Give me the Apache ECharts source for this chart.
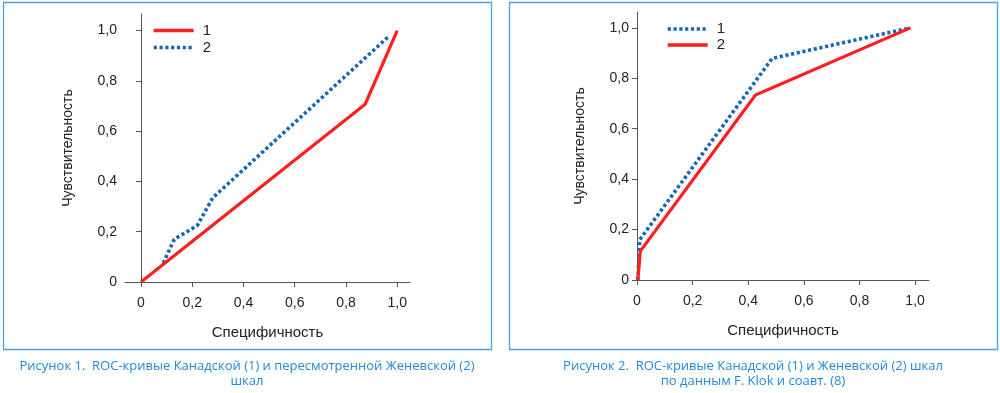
<!DOCTYPE html>
<html>
<head>
<meta charset="utf-8">
<script src="https://cdn.jsdelivr.net/npm/echarts@6/dist/echarts.min.js"></script>
<style>
html,body{margin:0;padding:0;background:#fff;}
#c{width:1000px;height:393px;}
</style>
</head>
<body>
<div id="c"></div>
<script>
// ---- Data ----
var tickValues = [0, 0.2, 0.4, 0.6, 0.8, 1.0];
// Figure 1
var fig1Canadian = [[0, 0], [0.875, 0.707], [1.0, 1.0]];
var fig1Geneva = [[0.087, 0.075], [0.13, 0.17], [0.22, 0.225], [0.28, 0.335], [0.97, 0.98]];
// Figure 2
var fig2Canadian = [[0.003, 0], [0.01, 0.16], [0.486, 0.879], [0.983, 1.0]];
var fig2Geneva = [[0.003, 0], [0.012, 0.115], [0.426, 0.734], [0.983, 1.0]];
var xName = 'Специфичность';
var yName = 'Чувствительность';
var caption1 = ['Рисунок 1.  ROC-кривые Канадской (1) и пересмотренной Женевской (2)', 'шкал'];
var caption2 = ['Рисунок 2.  ROC-кривые Канадской (1) и Женевской (2) шкал', 'по данным F. Klok и соавт. (8)'];

var RED = '#ff1f1f', BLUE = '#1767b4', AXIS = '#555', TXT = '#222', FRAME = '#47a2de', CAP = '#2589d4';
var FONT = 'Liberation Sans, Arial, sans-serif';

function fmt(v) { return v === 0 ? '0' : v.toFixed(1).replace('.', ','); }

function xAxis(idx, min, max, gap) {
  return {
    type: 'value', gridIndex: idx, min: min, max: max,
    name: xName, nameLocation: 'middle', nameGap: gap,
    nameTextStyle: {fontFamily: FONT, fontSize: 15, color: TXT},
    axisLine: {show: true, lineStyle: {color: AXIS, width: 1}},
    axisTick: {show: true, length: 5, lineStyle: {color: AXIS}, customValues: tickValues},
    axisLabel: {fontFamily: FONT, fontSize: 14, color: TXT, margin: 14, formatter: fmt, customValues: tickValues},
    splitLine: {show: false}
  };
}
function yAxis(idx, max, gap) {
  return {
    type: 'value', gridIndex: idx, min: 0, max: max,
    name: yName, nameLocation: 'middle', nameGap: gap, nameRotate: 90,
    nameTextStyle: {fontFamily: FONT, fontSize: 14, color: TXT},
    axisLine: {show: true, lineStyle: {color: AXIS, width: 1}},
    axisTick: {show: true, length: 5, lineStyle: {color: AXIS}, customValues: tickValues},
    axisLabel: {fontFamily: FONT, fontSize: 14, color: TXT, margin: 8, formatter: fmt, customValues: tickValues},
    splitLine: {show: false}
  };
}
function solid(name, idx, data) {
  return {name: name, type: 'line', xAxisIndex: idx, yAxisIndex: idx, data: data, symbol: 'none',
    lineStyle: {color: RED, width: 3.2, type: 'solid', cap: 'butt', join: 'miter'}, itemStyle: {color: RED}, z: 3};
}
function dotted(name, idx, data) {
  return {name: name, type: 'line', xAxisIndex: idx, yAxisIndex: idx, data: data, symbol: 'none',
    lineStyle: {color: BLUE, width: 3.6, type: [3.2, 2.6], cap: 'butt'}, itemStyle: {color: BLUE}, z: 2};
}
function captionText(lines, cx) {
  return lines.map(function (t, i) {
    return {type: 'text', x: cx, y: 366 + i * 15,
      style: {text: t, align: 'center', verticalAlign: 'middle', fill: CAP, fontFamily: '"Open Sans", sans-serif', fontSize: 13}};
  });
}
function legend(names, left, top, gap) {
  return {data: names, orient: 'vertical', left: left, top: top, padding: 0, itemWidth: 40, itemHeight: 14, itemGap: gap,
    formatter: function (n) { return n.slice(1); }, selectedMode: false,
    itemStyle: {opacity: 0, borderWidth: 0},
    lineStyle: {width: 3.4},
    textStyle: {fontFamily: FONT, fontSize: 15, color: TXT, padding: [0, 0, 0, 4]}};
}

var chart = echarts.init(document.getElementById('c'), null, {renderer: 'canvas'});
chart.setOption({
  animation: false,
  backgroundColor: '#fff',
  grid: [
    {left: 125, top: 14, width: 285, height: 268},
    {left: 637, top: 12, width: 292, height: 268}
  ],
  xAxis: [xAxis(0, -0.0625, 1.05, 43), xAxis(1, 0, 1.05, 43)],
  yAxis: [yAxis(0, 1.066, 50), yAxis(1, 1.063, 50)],
  legend: [
    legend(['L1', 'L2'], 152, 23, 2),
    legend(['R1', 'R2'], 666, 21.5, 1)
  ],
  series: [
    solid('L1', 0, fig1Canadian),
    dotted('L2', 0, fig1Geneva),
    dotted('R1', 1, fig2Canadian),
    solid('R2', 1, fig2Geneva)
  ],
  graphic: [
    {type: 'rect', shape: {x: 3.5, y: 2.5, width: 488, height: 347}, style: {fill: 'none', stroke: FRAME, lineWidth: 1.3}},
    {type: 'rect', shape: {x: 509.5, y: 2.5, width: 488, height: 347}, style: {fill: 'none', stroke: FRAME, lineWidth: 1.3}}
  ].concat(captionText(caption1, 247)).concat(captionText(caption2, 753))
});
</script>
</body>
</html>
